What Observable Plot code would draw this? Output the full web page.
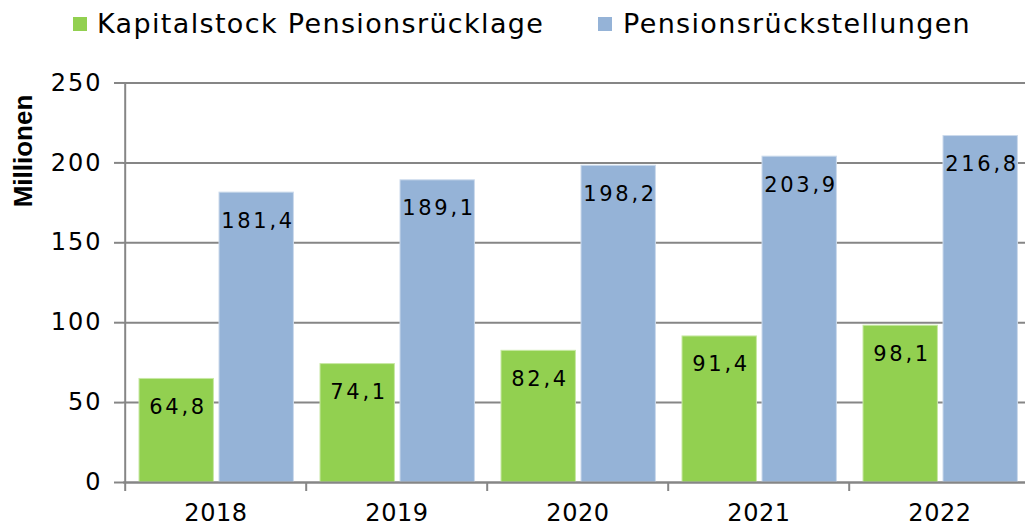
<!DOCTYPE html>
<html>
<head>
<meta charset="utf-8">
<script src="https://cdn.jsdelivr.net/npm/d3@7"></script>
<script src="https://cdn.jsdelivr.net/npm/@observablehq/plot@0.6"></script>
<style>
  html, body { margin: 0; padding: 0; background: #fff; overflow: hidden; }
  #wrap { position: relative; width: 1025px; height: 528px; }
  #overlay { position: absolute; left: 0; top: 0; pointer-events: none; }
  #chart svg { display: block; }
  g[aria-label="y-axis tick label"] text { letter-spacing: 2px; }
  g[aria-label="x-axis tick label"] text { letter-spacing: 0.6px; }
  g[aria-label="text"] text { letter-spacing: 2.7px; }
</style>
</head>
<body>
<div id="wrap">
  <div id="chart"></div>
  <svg id="overlay" width="1025" height="528" xmlns="http://www.w3.org/2000/svg"></svg>
</div>
<script>
const years = ["2018", "2019", "2020", "2021", "2022"];
const kapitalstock = [64.8, 74.1, 82.4, 91.4, 98.1];
const rueckstellungen = [181.4, 189.1, 198.2, 203.9, 216.8];
const yTicks = [0, 50, 100, 150, 200, 250];
const seriesNames = ["Kapitalstock Pensionsrücklage", "Pensionsrückstellungen"];
const colors = ["#92d050", "#95b3d7"];
const yLabel = "Millionen";

const table = years.map((year, i) => ({year, kapital: kapitalstock[i], rueck: rueckstellungen[i]}));
const fmt = v => v.toFixed(1).replace(".", ",");

const W = 1025, H = 528;
const xRange = [123, 1031];
const bw = (xRange[1] - xRange[0]) / years.length;
const gray = "#868686";
const font = "DejaVu Sans, Verdana, sans-serif";

const chart = Plot.plot({
  width: W,
  height: H,
  marginTop: 82.5,
  marginBottom: 46,
  marginLeft: 123,
  marginRight: 0,
  style: {fontFamily: font, color: "#000", background: "#fff"},
  x: {type: "band", domain: years, range: xRange, padding: 0},
  y: {domain: [0, 250]},
  marks: [
    Plot.gridY(yTicks, {stroke: gray, strokeOpacity: 1, strokeWidth: 2}),
    Plot.barY(table, {x: "year", y: "kapital", fill: colors[0], stroke: "#c8e8a4", strokeWidth: 1,
      insetLeft: 14, insetRight: bw - 89}),
    Plot.barY(table, {x: "year", y: "rueck", fill: colors[1], stroke: "#cbdaec", strokeWidth: 1,
      insetLeft: 94, insetRight: bw - 169}),
    Plot.ruleY([0], {stroke: gray, strokeWidth: 2}),
    Plot.ruleX(years.slice(0, 1), {x: d => d, y1: 250, y2: 0, dx: -bw / 2, insetBottom: -9, stroke: gray, strokeWidth: 2}),
    Plot.ruleX(years.slice(1), {x: d => d, y1: 0, y2: 0, dx: -bw / 2, insetBottom: -9, stroke: gray, strokeWidth: 2}),
    Plot.axisY({ticks: yTicks, tickSize: 9, tickPadding: 12, fontSize: 24, stroke: gray, strokeWidth: 2, tickFormat: d => String(d), label: null}),
    Plot.axisX({tickSize: 0, tickPadding: 21, fontSize: 24, label: null}),
    Plot.text(table, {x: "year", y: "kapital", text: d => fmt(d.kapital), dx: -39.3 + 1.35, dy: 35,
      lineAnchor: "bottom", fontSize: 21, fill: "#000"}),
    Plot.text(table, {x: "year", y: "rueck", text: d => fmt(d.rueck), dx: 40.7 + 1.35, dy: 35,
      lineAnchor: "bottom", fontSize: 21, fill: "#000"})
  ]
});
document.getElementById("chart").appendChild(chart);

// legend and axis title (overlay)
const ov = d3.select("#overlay");
const legendItems = [
  {name: seriesNames[0], color: colors[0], sx: 73, tx: 97},
  {name: seriesNames[1], color: colors[1], sx: 598, tx: 623}
];
legendItems.forEach(it => {
  ov.append("rect").attr("x", it.sx).attr("y", 17).attr("width", 14).attr("height", 14).attr("fill", it.color);
  ov.append("text").attr("x", it.tx).attr("y", 33)
    .attr("font-family", font).attr("font-size", 27).attr("letter-spacing", "1.35px")
    .attr("fill", "#000").text(it.name);
});
ov.append("text")
  .attr("transform", "translate(32,151) rotate(-90)")
  .attr("text-anchor", "middle")
  .attr("font-family", "Liberation Sans, Arial, sans-serif")
  .attr("font-weight", "bold")
  .attr("font-size", 26)
  .attr("fill", "#000")
  .text(yLabel);
</script>
</body>
</html>
